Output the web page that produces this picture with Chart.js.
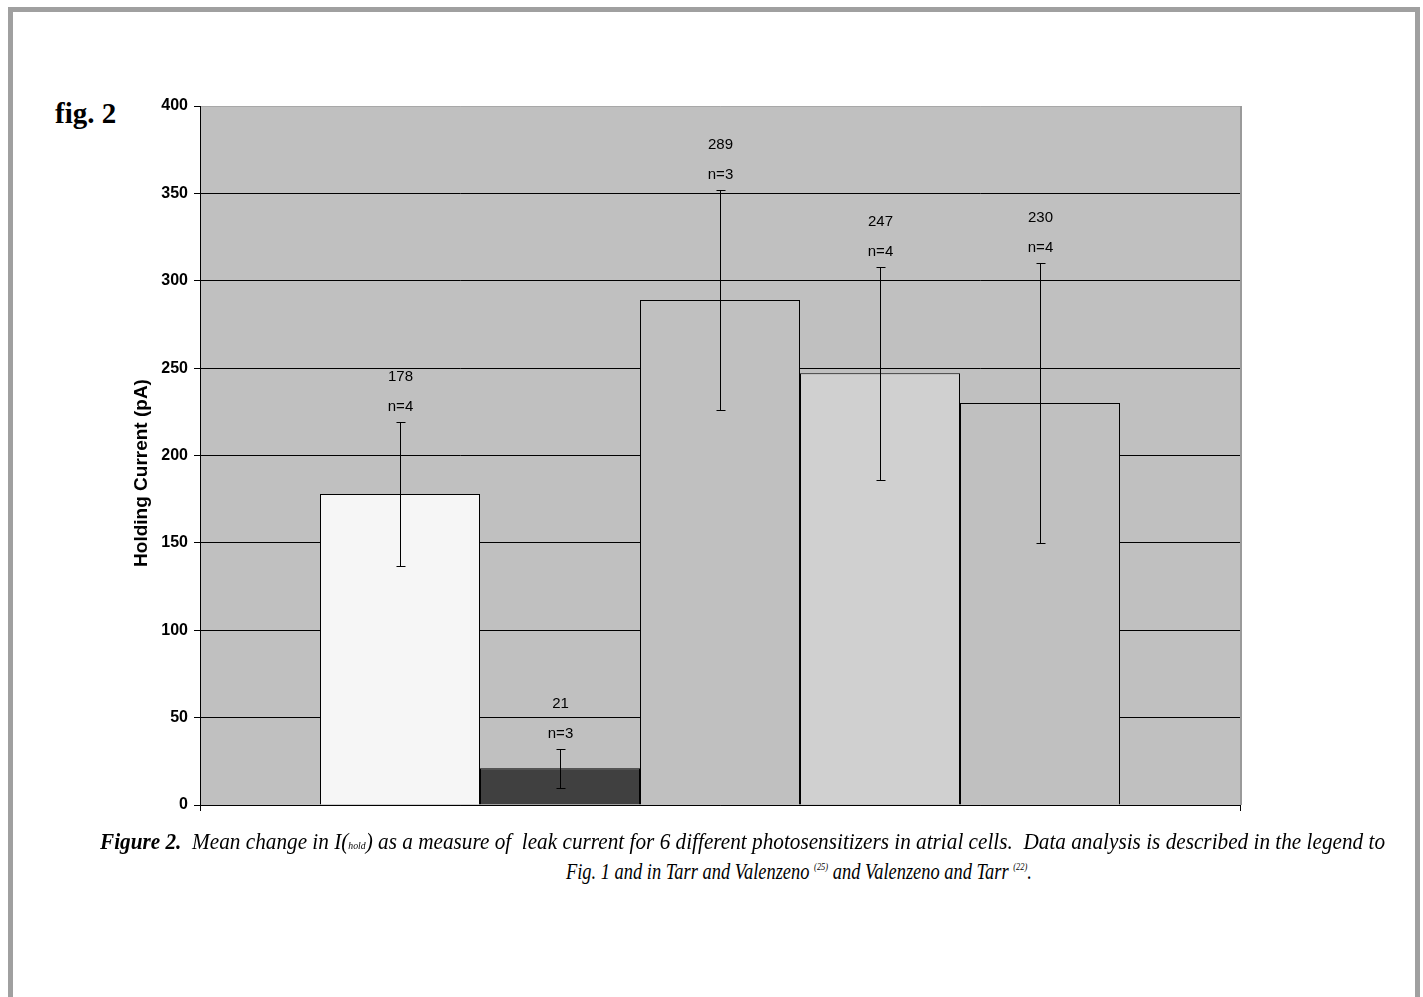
<!DOCTYPE html>
<html>
<head>
<meta charset="utf-8">
<script src="https://cdn.jsdelivr.net/npm/chart.js@4"></script>
<style>
  html, body { margin: 0; padding: 0; background: #fff; }
  body { width: 1423px; height: 997px; position: relative; overflow: hidden; }
  .frame { position: absolute; left: 8px; top: 7px; width: 1402px; height: 1000px;
           border: 5px solid #a0a0a0; border-bottom: none; }
  #wrap { position: absolute; left: 0; top: 0; width: 1423px; height: 830px; }
  .fig { position: absolute; left: 55px; top: 97px; font: bold 29px "Liberation Serif", serif; color: #000; }
  .cap { position: absolute; white-space: nowrap; font: italic 24px "Liberation Serif", serif; color: #000;
         transform-origin: left top; }
  .cap b { font-weight: bold; }
  .sub { font-size: 11px; }
  .sup { font-size: 11px; vertical-align: 9px; }
</style>
</head>
<body>
<div class="frame"></div>
<div class="fig">fig. 2</div>
<div id="wrap"><canvas id="c" width="1423" height="830"></canvas></div>
<div class="cap" id="line1" data-w="1285" style="left:100px; top:828px;"><b>Figure 2.</b>&nbsp; Mean change in I(<span class="sub">hold</span>) as a measure of &nbsp;leak current for 6 different photosensitizers in atrial cells.&nbsp; Data analysis is described in the legend to</div>
<div class="cap" id="line2" data-w="466" style="left:566px; top:858px;">Fig. 1 and in Tarr and Valenzeno <span class="sup">(25)</span> and Valenzeno and Tarr <span class="sup">(22)</span>.</div>
<script>
  // data
  const categories = [''];
  const seriesNames = ['PS 1', 'PS 2', 'PS 3', 'PS 4', 'PS 5'];
  const means   = [178, 21, 289, 247, 230];
  const errors  = [41, 11, 63, 61, 80];
  const nCells  = [4, 3, 3, 4, 4];
  const yTicks  = [0, 50, 100, 150, 200, 250, 300, 350, 400];
  const yTitle  = 'Holding Current (pA)';

  const barColors = ['#f6f6f6', '#404040', '#c0c0c0', '#d0d0d0', '#c0c0c0'];

  // squeeze caption lines to the width they take in the figure
  document.querySelectorAll('.cap').forEach(el => {
    const w = Number(el.dataset.w);
    el.style.transform = 'scaleX(' + (w / el.scrollWidth) + ')';
  });

  const plotBg = {
    id: 'plotBg',
    beforeDraw(chart) {
      const { ctx, chartArea: a } = chart;
      ctx.save();
      ctx.fillStyle = '#c0c0c0';
      ctx.fillRect(a.left, a.top, a.right - a.left, a.bottom - a.top);
      ctx.restore();
    },
    afterDraw(chart) {
      const { ctx, chartArea: a } = chart;
      ctx.save();
      ctx.strokeStyle = '#9a9a9a';
      ctx.lineWidth = 2;
      ctx.beginPath();
      ctx.moveTo(a.right + 1, a.top);
      ctx.lineTo(a.right + 1, a.bottom);
      ctx.stroke();
      // y title
      ctx.translate(142, 473);
      ctx.rotate(-Math.PI / 2);
      ctx.fillStyle = '#000';
      ctx.font = 'bold 19px "Liberation Sans", Arial, sans-serif';
      ctx.textAlign = 'center';
      ctx.textBaseline = 'middle';
      ctx.fillText(yTitle, 0, 0);
      ctx.restore();
    }
  };

  const errBars = {
    id: 'errBars',
    afterDatasetsDraw(chart) {
      const { ctx } = chart;
      const y = chart.scales.y;
      ctx.save();
      ctx.strokeStyle = '#000';
      ctx.lineWidth = 1;
      ctx.fillStyle = '#000';
      ctx.font = '15px "Liberation Sans", Arial, sans-serif';
      ctx.textAlign = 'center';
      ctx.textBaseline = 'middle';
      chart.data.datasets.forEach((ds, i) => {
        const bar = chart.getDatasetMeta(i).data[0];
        const x = Math.round(bar.x) + 0.5;
        const hi = Math.round(y.getPixelForValue(means[i] + errors[i])) + 0.5;
        const lo = Math.round(y.getPixelForValue(means[i] - errors[i])) + 0.5;
        ctx.beginPath();
        ctx.moveTo(x, hi); ctx.lineTo(x, lo);
        ctx.moveTo(x - 4, hi); ctx.lineTo(x + 5, hi);
        ctx.moveTo(x - 4, lo); ctx.lineTo(x + 5, lo);
        ctx.stroke();
        ctx.fillText('n=' + nCells[i], x, hi - 16);
        ctx.fillText(String(means[i]), x, hi - 46);
      });
      ctx.restore();
    }
  };

  new Chart(document.getElementById('c'), {
    type: 'bar',
    data: {
      labels: categories,
      datasets: seriesNames.map((name, i) => ({
        label: name,
        data: [means[i]],
        backgroundColor: barColors[i],
        borderColor: '#000',
        borderWidth: 1,
        categoryPercentage: 800 / 1040,
        barPercentage: 1
      }))
    },
    options: {
      responsive: false,
      animation: false,
      events: [],
      layout: { padding: { left: 120, top: 106, right: 183, bottom: 17 } },
      plugins: { legend: { display: false }, tooltip: { enabled: false } },
      scales: {
        x: {
          afterFit: s => { s.height = 8; },
          ticks: { display: false },
          grid: { offset: true, drawOnChartArea: false, drawTicks: true, tickLength: 6, color: '#000' },
          border: { color: '#000', width: 1 }
        },
        y: {
          min: 0, max: 400,
          afterFit: s => { s.width = 80; },
          afterBuildTicks: s => { s.ticks = yTicks.map(v => ({ value: v })); },
          ticks: {
            color: '#000', padding: 6,
            font: { family: '"Liberation Sans", Arial, sans-serif', size: 16, weight: 'bold' }
          },
          grid: {
            color: c => (c.tick && c.tick.value === 400) ? '#a8a8a8' : '#000',
            tickColor: '#000', tickLength: 6, lineWidth: 1
          },
          border: { color: '#000', width: 1 }
        }
      }
    },
    plugins: [plotBg, errBars]
  });
</script>
</body>
</html>
